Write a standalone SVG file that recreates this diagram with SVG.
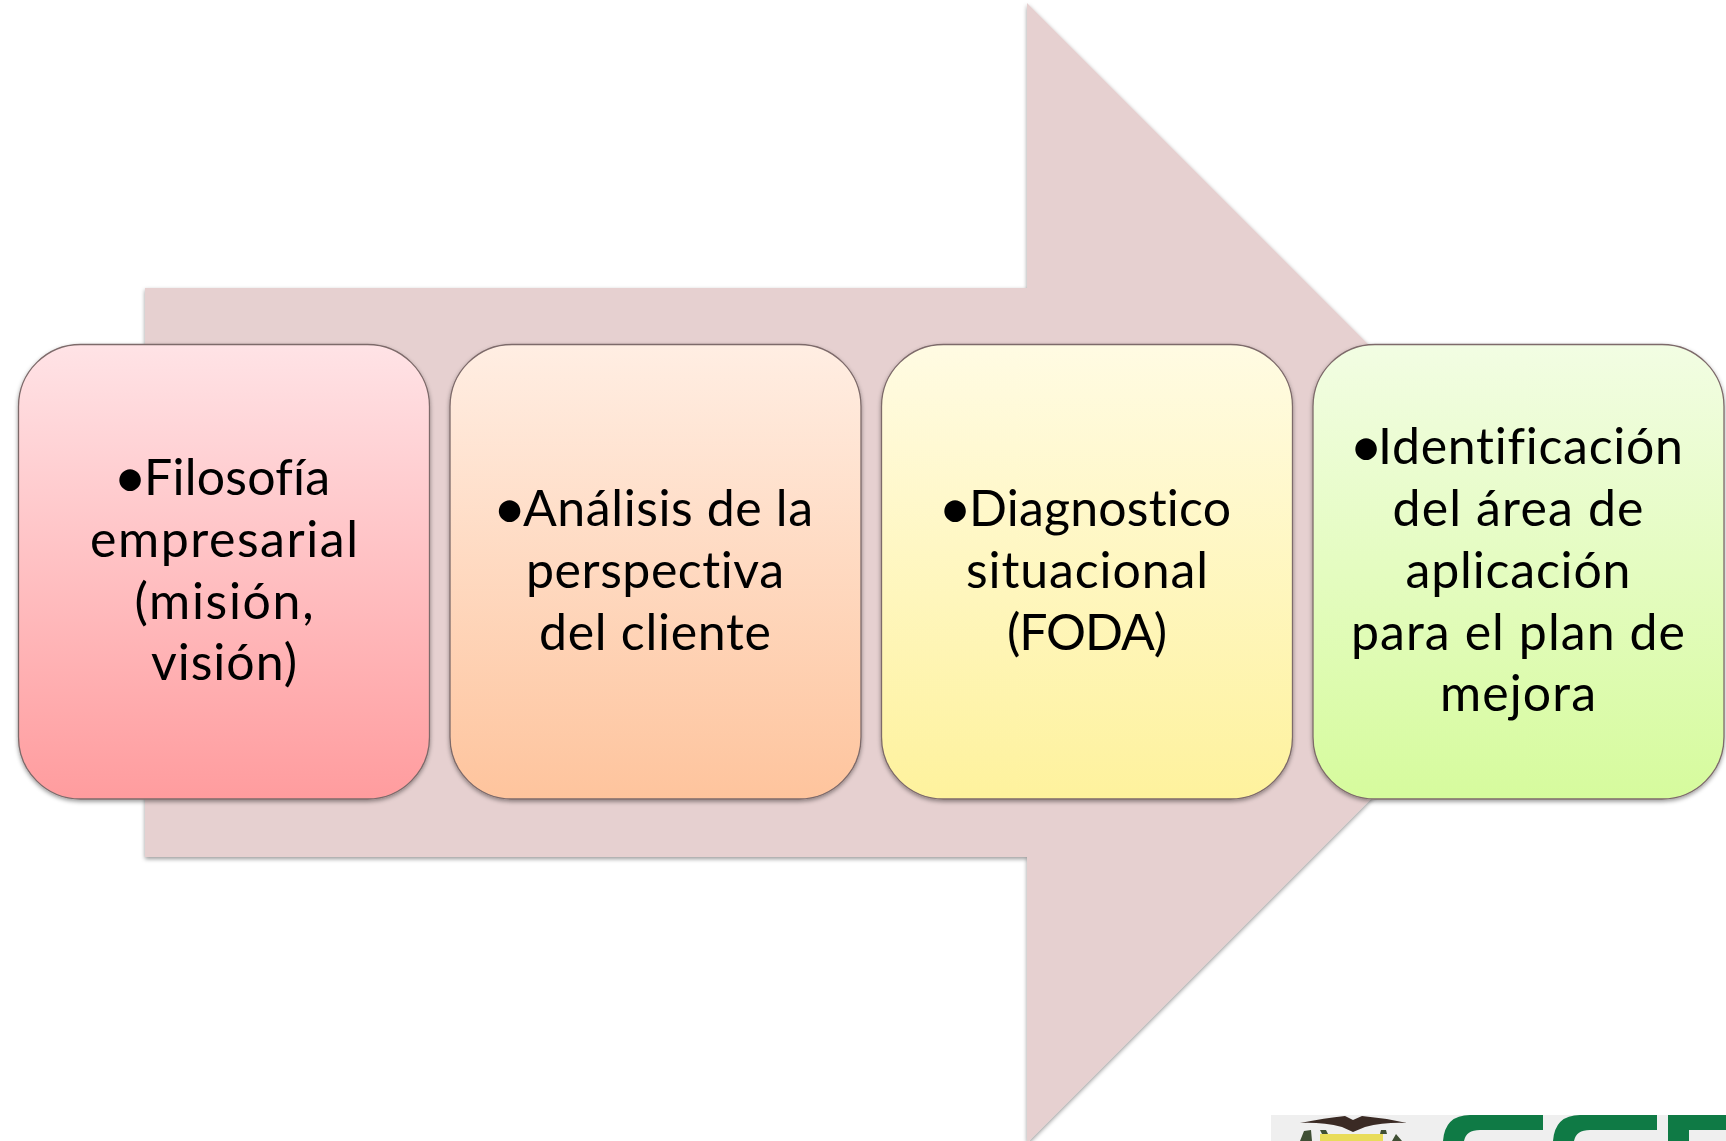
<svg xmlns="http://www.w3.org/2000/svg" width="1726" height="1141" viewBox="0 0 1726 1141">
<defs>
<style>
.box{stroke:#7d6a6a;stroke-width:1.3;filter:url(#sh)}
.t{font-family:"Lato","Open Sans",sans-serif;font-size:50px;fill:#000;text-anchor:middle;font-variant-ligatures:none}
.b{font-size:58px}
</style>
<filter id="sh" x="-5%" y="-5%" width="110%" height="110%"><feDropShadow dx="0" dy="2" stdDeviation="2" flood-color="#000" flood-opacity=".4"/></filter>
<linearGradient id="g1" x1="0" y1="0" x2="0" y2="1"><stop offset="0" stop-color="#ffe3e6"/><stop offset="1" stop-color="#ff9c9e"/></linearGradient>
<linearGradient id="g2" x1="0" y1="0" x2="0" y2="1"><stop offset="0" stop-color="#ffeee3"/><stop offset="1" stop-color="#fec49d"/></linearGradient>
<linearGradient id="g3" x1="0" y1="0" x2="0" y2="1"><stop offset="0" stop-color="#fffbe3"/><stop offset="1" stop-color="#fef29d"/></linearGradient>
<linearGradient id="g4" x1="0" y1="0" x2="0" y2="1"><stop offset="0" stop-color="#f2fde3"/><stop offset="1" stop-color="#d6fb9d"/></linearGradient>
</defs>
<rect width="1726" height="1141" fill="#fff"/>
<g id="arrow"><path d="M145 288H1027V3L1597 573L1027 1143V857H145Z" fill="#e6d0d0" filter="url(#sh)"/></g>
<g id="logo">
<rect x="1271" y="1115" width="455" height="26" fill="#efefef"/>
<path d="M1300 1123Q1325 1118 1345 1116L1353 1120L1362 1116Q1385 1118 1407 1123Q1385 1122 1365 1127L1353 1132L1342 1127Q1322 1122 1300 1123Z" fill="#3a2a24"/>
<rect x="1320" y="1134" width="63" height="7" fill="#e9dc5a"/>
<path d="M1300 1141L1304 1131L1311 1130L1312 1141ZM1322 1134L1320 1130H1326L1328 1134ZM1380 1134L1381 1130H1386L1387 1134ZM1392 1141L1396 1134L1402 1141Z" fill="#3f4f34"/>
<path d="M1443 1141Q1445 1115 1470 1115H1543V1130H1480Q1466 1130 1464 1141Z" fill="#0f7a45"/>
<path d="M1553 1141Q1555 1115 1580 1115H1657V1130H1590Q1576 1130 1574 1141Z" fill="#0f7a45"/>
<path d="M1668 1141V1115H1726V1130H1689V1141Z" fill="#0f7a45"/>
</g>
<g id="node1"><rect class="box" x="18.500" y="344.5" width="411" height="454.5" rx="62" fill="url(#g1)"/>
<text class="t"><tspan class="b" x="130" y="498">•</tspan><tspan x="237" y="495" textLength="186">Filosofía</tspan></text>
<text class="t" x="224" y="557" textLength="268">empresarial</text>
<text class="t" x="224" y="619" textLength="179">(misión,</text>
<text class="t" x="224" y="680" textLength="146">visión)</text></g>
<g id="node2"><rect class="box" x="450" y="344.5" width="411" height="454.5" rx="62" fill="url(#g2)"/>
<text class="t"><tspan class="b" x="509.500" y="529">•</tspan><tspan x="668" y="526" textLength="290">Análisis de la</tspan></text>
<text class="t" x="655" y="588" textLength="258">perspectiva</text>
<text class="t" x="655" y="650" textLength="232">del cliente</text></g>
<g id="node3"><rect class="box" x="881.500" y="344.5" width="411" height="454.5" rx="62" fill="url(#g3)"/>
<text class="t"><tspan class="b" x="955" y="529">•</tspan><tspan x="1100" y="526" textLength="262">Diagnostico</tspan></text>
<text class="t" x="1087" y="588" textLength="242">situacional</text>
<text class="t" x="1087" y="650" textLength="160">(FODA)</text></g>
<g id="node4"><rect class="box" x="1313" y="344.5" width="411" height="454.5" rx="62" fill="url(#g4)"/>
<text class="t"><tspan class="b" x="1366" y="467">•</tspan><tspan x="1530.500" y="464" textLength="305">Identificación</tspan></text>
<text class="t" x="1518" y="526" textLength="251">del área de</text>
<text class="t" x="1518" y="588" textLength="225">aplicación</text>
<text class="t" x="1518" y="650" textLength="334">para el plan de</text>
<text class="t" x="1518" y="711" textLength="156">mejora</text></g>
</svg>
